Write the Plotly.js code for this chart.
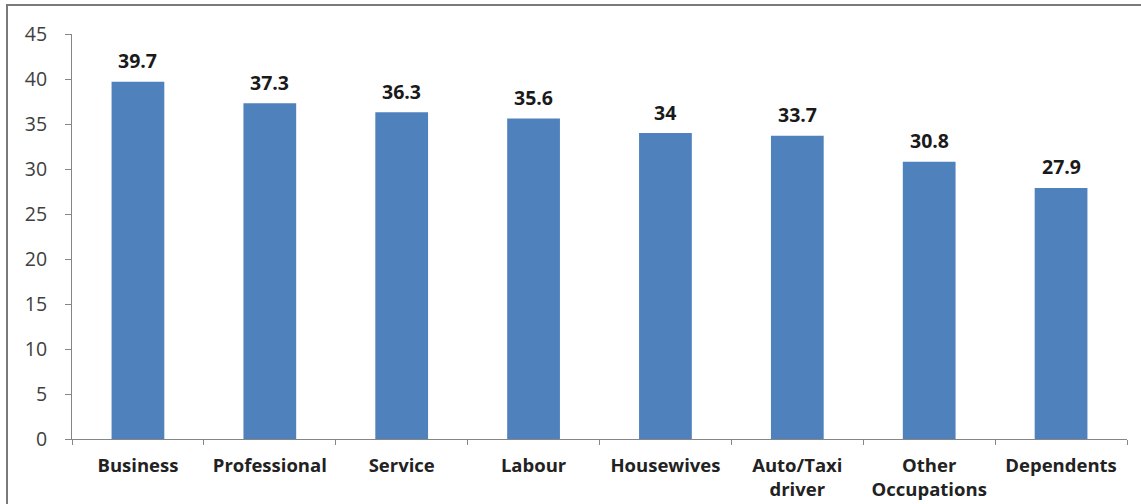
<!DOCTYPE html>
<html>
<head>
<meta charset="utf-8">
<script src="https://cdn.plot.ly/plotly-3.0.1.min.js"></script>
<style>
html, body { margin: 0; padding: 0; background: #fff; }
#wrap { position: relative; width: 1141px; height: 504px; overflow: hidden; }
#chart { position: absolute; left: 0; top: 0; width: 1141px; height: 504px; }
#frame { position: absolute; left: 6px; top: 4px; width: 1200px; height: 600px;
  border-left: 2px solid #7a7a7a; border-top: 2px solid #7a7a7a; pointer-events: none; }
</style>
</head>
<body>
<div id="wrap">
  <div id="chart"></div>
  <div id="frame"></div>
</div>
<script>
const categories = ["Business", "Professional", "Service", "Labour", "Housewives", "Auto/Taxi<br>driver", "Other<br>Occupations", "Dependents"];
const values = [39.7, 37.3, 36.3, 35.6, 34, 33.7, 30.8, 27.9];
const valueLabels = ["39.7", "37.3", "36.3", "35.6", "34", "33.7", "30.8", "27.9"];
const yTicks = [0, 5, 10, 15, 20, 25, 30, 35, 40, 45];

const trace = {
  type: "bar",
  x: categories,
  y: values,
  marker: { color: "#4F81BD", line: { width: 0 } },
  hoverinfo: "none"
};

const annotations = categories.map((c, i) => ({
  x: c, y: values[i], xref: "x", yref: "y",
  text: valueLabels[i], showarrow: false,
  yanchor: "middle", yshift: 21,
  font: { family: "Open Sans", size: 19.5, color: "#1a1a1a", weight: "bold" }
}));

const layout = {
  width: 1141, height: 504,
  margin: { l: 72, r: 14, t: 34, b: 65, pad: 0 },
  paper_bgcolor: "rgba(0,0,0,0)",
  plot_bgcolor: "#fff",
  showlegend: false,
  bargap: 0.6,
  xaxis: {
    type: "category",
    showline: true, linecolor: "#868686", linewidth: 1,
    ticks: "outside", tickson: "boundaries", ticklen: 5, tickcolor: "#868686",
    ticklabelstandoff: 10,
    showgrid: false, zeroline: false,
    tickfont: { family: "Open Sans", size: 18.5, color: "#222", weight: "bold" }
  },
  yaxis: {
    range: [0, 45],
    tickvals: yTicks,
    ticktext: yTicks.map(String),
    showline: true, linecolor: "#868686", linewidth: 1,
    ticks: "outside", ticklen: 6, tickcolor: "#868686",
    ticklabelstandoff: 14,
    showgrid: false, zeroline: false,
    tickfont: { family: "Open Sans", size: 19.5, color: "#404040" }
  },
  annotations: annotations
};

Plotly.newPlot("chart", [trace], layout, { staticPlot: true, displayModeBar: false });
</script>
</body>
</html>
